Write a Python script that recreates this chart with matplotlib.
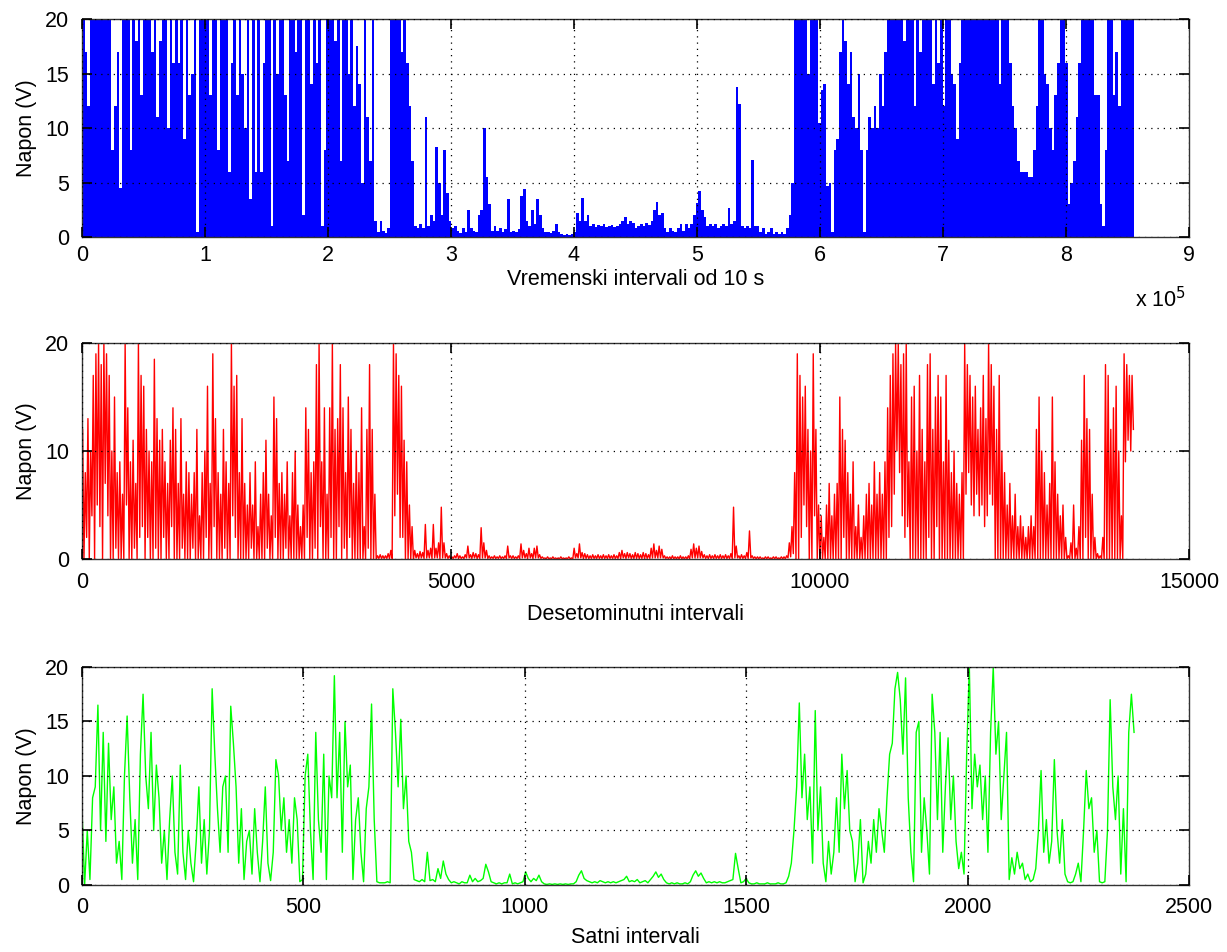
import numpy as np
import matplotlib
matplotlib.use("Agg")
import matplotlib.pyplot as plt

plt.rcParams['font.family'] = ['Liberation Sans', 'DejaVu Sans']
plt.rcParams['font.size'] = 15.5

# --- data ---
# top: max voltage of the 10 s samples inside each 6 h window (2160 samples)
p1_hi = [
    20, 17, 12, 20, 20, 20, 20, 20, 20, 20, 20, 8, 12, 17, 4.5, 20, 20, 20, 8, 20,
    18, 20, 13, 20, 20, 20, 17, 20, 11, 18, 20, 20, 10, 20, 16, 20, 16, 20, 9, 20,
    13, 15, 20, 0.5, 20, 20, 20, 20, 13, 20, 20, 8, 20, 20, 20, 6, 16, 20, 13, 20,
    15, 10, 20, 3.5, 20, 6, 20, 6, 16, 20, 20, 1, 20, 15, 20, 20, 13, 7, 20, 20,
    17, 20, 20, 2, 20, 20, 14, 20, 16, 20, 1, 8, 20, 20, 20, 18, 20, 7, 20, 20,
    15, 20, 12, 17.5, 14, 5, 20, 11, 7, 20, 1.5, 0.5, 1.5, 0.6, 0.4, 0.8, 20, 20, 20, 20,
    17, 20, 16, 12, 7, 1.0, 0.8, 1.2, 0.8, 11, 1, 2, 1.5, 8.3, 5, 2, 8, 4, 1.5, 0.8,
    1.0, 0.6, 0.4, 0.8, 0.5, 2.5, 0.8, 0.6, 0.5, 2, 2.5, 10, 5.5, 3, 0.6, 1, 0.6, 0.8, 0.5, 0.7,
    3.5, 0.5, 0.6, 0.5, 0.7, 3.8, 4.4, 1.5, 1, 2.5, 1.2, 3.5, 2, 0.8, 0.5, 0.5, 0.4, 0.6, 1.2, 0.5,
    0.3, 0.2, 0.3, 0.2, 0.3, 0.5, 2.2, 1.5, 3.6, 1.5, 2, 1, 1.2, 0.9, 1.1, 1, 1.2, 0.9, 1, 1.1,
    0.9, 1.0, 1.2, 1.5, 1.8, 1.2, 1.5, 1.3, 0.8, 1.0, 1.2, 1.0, 1.3, 1.1, 1.5, 2.5, 3.2, 2, 2.2, 0.8,
    0.5, 0.8, 0.6, 0.5, 0.8, 1.2, 0.6, 1.2, 0.8, 1.2, 2, 3.1, 4.2, 2.5, 1.8, 1, 1.2, 1, 1.2, 0.8,
    1, 1.2, 1, 2.7, 1.2, 1.5, 13.8, 12.2, 1, 0.8, 1, 0.8, 7.1, 1, 1, 0.5, 0.8, 0.3, 0.5, 0.8,
    0.3, 0.5, 0.3, 0.5, 0.3, 0.8, 2, 5, 20, 20, 20, 20, 20, 15, 20, 20, 20, 10.5, 13.5, 14,
    4.7, 5, 0.5, 8, 9, 17, 20, 18, 14, 17, 11, 10, 15, 8, 0.5, 8, 11, 10, 12, 10,
    15, 12, 17, 20, 20, 20, 20, 20, 20, 18, 20, 20, 20, 12, 20, 17, 20, 20, 20, 20,
    14, 20, 16, 20, 12, 20, 20, 15, 14, 9, 16, 20, 20, 20, 20, 20, 20, 20, 20, 20,
    20, 20, 20, 20, 20, 14, 20, 20, 20, 16, 12, 10, 7, 6, 6, 6, 5.5, 5.5, 8, 12,
    20, 20, 15, 14, 10, 8, 13, 16, 20, 20, 16, 3, 5, 7, 11, 16, 20, 20, 20, 20,
    20, 13, 13, 3, 1, 8, 20, 20, 13, 17, 12, 20, 20, 20, 20, 20,
]

# middle: highest / lowest 10 min value in each 6 h window (36 samples)
p2_hi = [
    12, 8, 13, 10, 17, 19, 20, 18, 20, 19, 17, 10, 15, 8, 9, 6, 20, 14, 9, 11,
    7, 20, 17, 16, 12, 10, 9, 18.5, 13, 11, 12, 9, 7, 11, 14, 12, 7, 13, 6, 9,
    8, 6, 8, 12, 4, 8, 10, 16, 7, 19, 13, 8, 6, 12, 9, 7, 20, 16, 17, 8,
    13, 7, 5, 8, 5, 9, 3, 6, 8, 11, 6, 4, 15, 13, 7, 8, 6, 9, 4, 8,
    10, 5, 3, 5, 14, 12, 8, 9, 18, 20, 9, 14, 6, 14, 20, 12, 13, 18, 14, 8,
    15, 12, 7, 10, 8, 14, 3, 12, 18, 12, 6, 0.3, 0.4, 0.3, 0.3, 0.5, 0.8, 20, 19, 17,
    16, 11, 9, 5, 3, 0.8, 0.5, 0.7, 0.6, 3.2, 0.8, 1, 3.2, 1.0, 1.5, 4.8, 1.5, 0.5, 0.3, 0.2,
    0.3, 0.5, 0.3, 0.2, 0.4, 1.2, 0.4, 0.6, 0.5, 0.4, 2.9, 1.5, 0.8, 0.3, 0.2, 0.3, 0.2, 0.3, 0.2, 0.3,
    1.2, 0.3, 0.3, 0.2, 0.3, 1.4, 0.8, 0.5, 1, 0.5, 1.0, 1.2, 0.4, 0.2, 0.1, 0.2, 0.1, 0.2, 0.1, 0.1,
    0.2, 0.1, 0.1, 0.2, 0.1, 1.0, 0.5, 1.4, 0.6, 0.5, 0.4, 0.3, 0.4, 0.3, 0.4, 0.3, 0.4, 0.3, 0.4, 0.3,
    0.4, 0.3, 0.6, 0.8, 0.5, 0.6, 0.5, 0.4, 0.6, 0.5, 0.4, 0.6, 0.5, 0.4, 1.0, 1.4, 0.8, 1.2, 0.9, 0.3,
    0.2, 0.2, 0.3, 0.2, 0.2, 0.3, 0.2, 0.2, 0.3, 0.9, 1.4, 1.0, 1.2, 0.7, 0.4, 0.3, 0.4, 0.3, 0.4, 0.3,
    0.4, 0.3, 0.4, 0.3, 0.5, 4.8, 1.2, 0.3, 0.4, 0.3, 0.6, 2.6, 0.3, 0.2, 0.2, 0.2, 0.1, 0.2, 0.2, 0.1,
    0.2, 0.2, 0.1, 0.2, 0.2, 0.3, 1.5, 3, 8, 19, 17, 15, 16, 12, 10, 19, 12, 5, 4, 2,
    5, 7, 4, 6, 7, 15, 12, 11, 8, 6, 9, 3, 5, 2, 4, 6, 7, 5, 9, 6,
    8, 6, 9, 14, 17, 19, 20, 20, 18, 19, 20, 9, 15, 16, 10, 17, 12, 9, 18, 19,
    12, 15, 17, 15, 9, 17, 11, 8, 10, 7, 6, 8, 20, 18, 17, 15, 16, 12, 14, 17,
    13, 20, 18, 16, 12, 17, 10, 8, 5, 7, 4, 6, 3, 4, 3, 2, 3, 4, 3, 12,
    15, 10, 8, 5, 7, 15, 9, 6, 4, 5, 2, 0.3, 1.5, 5, 1, 3, 11, 17, 13, 12,
    6, 2, 0.5, 0.3, 2, 18, 17, 12, 14, 16, 10, 4, 19, 18, 17, 17,
]
p2_lo = [
    0, 2, 0, 4, 0, 5, 3, 0, 7, 4, 0, 0, 1, 0, 0, 0, 5, 0, 0, 1,
    0, 2, 3, 0, 2, 0, 0, 1, 0, 0, 2, 0, 0, 3, 0, 0, 0, 1, 0, 0,
    0, 1, 0, 0, 0, 0, 2, 0, 0, 3, 0, 0, 0, 1, 0, 0, 4, 2, 0, 0,
    0, 0, 0, 1, 0, 0, 0, 0, 0, 1, 0, 0, 2, 0, 0, 0, 1, 0, 0, 0,
    0, 0, 0, 0, 2, 0, 0, 1, 0, 3, 0, 0, 0, 2, 0, 0, 3, 0, 1, 0,
    2, 0, 0, 0, 0, 0, 0, 1, 0, 0, 0, 0.05, 0.05, 0.05, 0.05, 0.05, 0.05, 4, 6, 2,
    2, 0, 0, 0, 0, 0.1, 0.05, 0.1, 0.05, 0.1, 0.1, 0.05, 0.1, 0.1, 0.05, 0.1, 0.1, 0.05, 0.05, 0.05,
    0.1, 0.05, 0.05, 0.05, 0.1, 0.1, 0.05, 0.1, 0.05, 0.05, 0.1, 0.1, 0.05, 0.05, 0.05, 0.05, 0.05, 0.05, 0.05, 0.05,
    0.1, 0.05, 0.05, 0.05, 0.05, 0.1, 0.1, 0.05, 0.1, 0.05, 0.1, 0.1, 0.05, 0.05, 0.02, 0.02, 0.02, 0.02, 0.02, 0.02,
    0.02, 0.02, 0.02, 0.02, 0.02, 0.1, 0.1, 0.1, 0.05, 0.05, 0.05, 0.05, 0.05, 0.05, 0.05, 0.05, 0.05, 0.05, 0.05, 0.05,
    0.05, 0.05, 0.05, 0.1, 0.05, 0.1, 0.05, 0.05, 0.05, 0.05, 0.05, 0.05, 0.05, 0.05, 0.1, 0.1, 0.1, 0.1, 0.1, 0.05,
    0.02, 0.02, 0.02, 0.02, 0.02, 0.02, 0.02, 0.02, 0.02, 0.1, 0.1, 0.1, 0.1, 0.1, 0.05, 0.05, 0.05, 0.05, 0.05, 0.05,
    0.05, 0.05, 0.05, 0.05, 0.05, 0.1, 0.1, 0.05, 0.05, 0.05, 0.05, 0.1, 0.05, 0.02, 0.02, 0.02, 0.02, 0.02, 0.02, 0.02,
    0.02, 0.02, 0.02, 0.02, 0.02, 0.1, 0.2, 0.5, 0, 0, 2, 5, 3, 0, 0, 4, 0, 0, 0, 0,
    0, 0, 0, 0, 0, 0, 2, 0, 0, 0, 0, 0, 0, 0, 0, 0, 0, 0, 0, 0,
    0, 0, 0, 2, 3, 6, 10, 8, 4, 2, 3, 0, 0, 0, 0, 0, 0, 0, 2, 0,
    0, 3, 0, 0, 0, 0, 0, 0, 0, 0, 0, 0, 6, 8, 5, 4, 6, 4, 5, 3,
    4, 6, 5, 0, 0, 0, 0, 0, 0, 0, 0, 0, 0, 0, 0, 0, 0, 0, 0, 0,
    0, 0, 0, 0, 0, 0, 0, 0, 0, 0, 0, 0.05, 0, 0, 0, 0, 0, 2, 0, 0,
    0, 0, 0.05, 0.05, 0, 0, 0, 0, 0, 0, 0, 0, 9, 11, 10, 12,
]

# bottom: hourly values, one reading every 6 h
p3_val = [
    7, 0, 5, 0.5, 8, 9, 16.5, 5, 14, 4, 13, 6, 9, 2, 4, 0.5, 10, 15.5, 8, 2,
    6, 0.5, 12, 17.5, 10, 7, 14, 5, 11, 8, 2, 5, 0.5, 6, 10, 3, 1, 11, 3, 0.5,
    5, 2, 0.3, 4, 9, 2, 6, 1, 5, 18, 12, 7, 3, 9, 10, 3, 16.4, 13, 9, 2,
    7, 0.5, 4, 5, 1, 7, 3, 0.3, 4, 9, 2, 0.4, 3, 11.5, 10, 5, 8, 3, 6, 2,
    8, 6, 0.3, 0.5, 10, 12, 5, 0.5, 14, 6, 3, 12, 0.5, 10, 8, 19.2, 8, 14, 3, 15,
    9, 11, 0.5, 6, 8, 3, 0.3, 7, 9, 16.6, 6, 0.3, 0.2, 0.2, 0.2, 0.3, 0.2, 18, 14, 9,
    15.2, 7, 10, 4, 3, 0.5, 0.4, 0.3, 0.5, 0.3, 3, 0.4, 0.5, 0.3, 1.5, 0.6, 2.2, 1.0, 0.5, 0.2,
    0.3, 0.2, 0.1, 0.3, 0.2, 0.2, 0.9, 0.3, 0.6, 0.3, 0.4, 0.6, 1.9, 1.2, 0.3, 0.2, 0.1, 0.2, 0.1, 0.2,
    0.2, 1.0, 0.1, 0.2, 0.1, 0.2, 0.3, 1.2, 0.6, 0.3, 0.6, 0.4, 0.9, 0.3, 0.1, 0.05, 0.1, 0.05, 0.1, 0.05,
    0.1, 0.05, 0.1, 0.05, 0.1, 0.1, 0.3, 0.9, 1.3, 0.6, 0.4, 0.3, 0.2, 0.3, 0.2, 0.4, 0.3, 0.2, 0.3, 0.2,
    0.3, 0.2, 0.3, 0.4, 0.5, 0.8, 0.3, 0.4, 0.3, 0.5, 0.2, 0.3, 0.4, 0.2, 0.5, 0.8, 1.2, 0.7, 1.0, 0.5,
    0.2, 0.1, 0.2, 0.1, 0.2, 0.1, 0.1, 0.2, 0.1, 0.3, 0.9, 1.3, 0.8, 1.1, 0.6, 0.2, 0.3, 0.2, 0.3, 0.2,
    0.3, 0.2, 0.2, 0.3, 0.4, 0.5, 2.9, 1.5, 0.2, 0.3, 0.6, 0.2, 0.1, 0.1, 0.2, 0.1, 0.1, 0.1, 0.2, 0.1,
    0.1, 0.1, 0.2, 0.1, 0.1, 0.2, 0.8, 2, 5, 9, 16.7, 8, 12, 6, 9, 2, 16, 5, 9, 2,
    0.3, 4, 1, 3, 8, 3, 12, 7, 10.5, 5, 4, 0.3, 2, 6, 0.2, 1, 4, 2, 6, 3,
    7, 5, 3, 8, 12, 13, 18, 19.5, 17, 12, 19, 8, 3, 0.3, 14, 15, 3, 8, 5, 1,
    17.5, 14, 6, 14, 3, 9, 13.5, 6, 10, 4, 1.5, 3, 1, 12, 20, 7, 12, 9, 11, 6,
    10, 3, 14, 20, 12, 15, 6, 10, 14, 0.5, 2.5, 1, 3, 1.5, 2, 0.5, 1, 0.3, 0.5, 1.5,
    5, 10.5, 3, 6, 2, 4, 11.5, 5, 2, 6, 1, 0.3, 0.2, 0.3, 1, 2, 0.3, 5, 10.5, 7,
    8, 3, 5, 0.3, 0.2, 0.3, 5, 17, 9, 6, 10, 1, 7, 0.3, 14, 17.5, 14,
]

x1_ticks = np.arange(0, 10) * 1e5
x1_labels = [str(i) for i in range(10)]

fig = plt.figure(figsize=(12.27, 9.52), dpi=100)
ax1 = fig.add_axes([0.0668, 0.751, 0.9022, 0.229])
ax2 = fig.add_axes([0.0668, 0.4128, 0.9022, 0.2269])
ax3 = fig.add_axes([0.0668, 0.0704, 0.9022, 0.229])

# panel 1 - 10 s intervals
edges1 = np.arange(len(p1_hi) + 1) * 2160
ax1.stairs(p1_hi, edges1, fill=True, color=(0, 0, 1), linewidth=0)
ax1.set_xlim(0, 9e5)
ax1.set_xticks(x1_ticks)
ax1.set_xticklabels(x1_labels)
ax1.set_yticks([0, 5, 10, 15, 20])
fig.text(1135 / 1227, 1 - 300 / 952, r'x 10$^5$', fontsize=15.5, va='center')

# panel 2 - 10 min intervals, hi/lo of each 6 h window
n2 = len(p2_hi)
x2 = np.empty(2 * n2)
x2[0::2] = np.arange(n2) * 36 + 9
x2[1::2] = np.arange(n2) * 36 + 27
y2 = np.empty(2 * n2)
y2[0::2] = p2_hi
y2[1::2] = p2_lo
ax2.plot(x2, y2, color=(1, 0, 0), linewidth=1.0)
ax2.set_xlim(0, 15000)
ax2.set_xticks([0, 5000, 10000, 15000])
ax2.set_yticks([0, 10, 20])
ax2.set_xlabel('Desetominutni intervali', labelpad=8)

# panel 3 - hourly
x3 = np.arange(len(p3_val)) * 6
ax3.plot(x3, p3_val, color=(0, 1, 0), linewidth=1.0)
ax3.set_xlim(0, 2500)
ax3.set_xticks([0, 500, 1000, 1500, 2000, 2500])
ax3.set_yticks([0, 5, 10, 15, 20])
ax3.set_xlabel('Satni intervali', labelpad=6)

for ax in (ax1, ax2, ax3):
    ax.set_ylim(0, 20)
    ax.set_ylabel('Napon (V)', labelpad=6)
    ax.set_axisbelow(False)
    ax.grid(True, color='k', linestyle=(0, (1, 4)), linewidth=0.9)
    ax.tick_params(direction='in', top=True, right=True, length=7, width=1.2,
                   labelsize=15.5, pad=9)
    for s in ax.spines.values():
        s.set_color('#333333')
        s.set_linewidth(1.0)

# top panel: labels sit a little tighter
ax1.tick_params(axis='x', pad=6)
ax1.set_xlabel('Vremenski intervali od 10 s', labelpad=2)

fig.savefig('out.png', dpi=100, facecolor='white')
